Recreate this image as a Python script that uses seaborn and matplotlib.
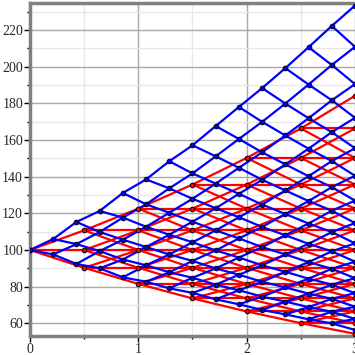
import numpy as np
import pandas as pd
import seaborn as sns
import matplotlib
matplotlib.use("Agg")
import matplotlib.pyplot as plt
from matplotlib.ticker import MultipleLocator

# binomial tree (blue): 14 steps over 3 years, top and bottom node per step
blue_times = [i * 3 / 14 for i in range(15)]
blue_top = [100, 106.0, 115.3, 121.3, 131.1, 138.5, 148.4, 157.1, 167.6,
            178.0, 188.3, 199.2, 210.6, 222.2, 233.3]
blue_bottom = [100, 97.6, 92.4, 90.0, 85.1, 82.7, 79.1, 76.6, 73.1,
               70.4, 67.3, 64.9, 62.2, 60.0, 56.4]

# trinomial tree (red): 6 steps of half a year, price levels shared by all steps
red_times = [0, 0.5, 1, 1.5, 2, 2.5, 3]
red_levels = [54.3, 60.1, 66.5, 73.6, 81.5, 90.3, 100, 110.7, 122.6,
              135.7, 150.2, 166.3, 184.1]


def blue_nodes():
    cols = []
    for k, (lo, hi) in enumerate(zip(blue_bottom, blue_top)):
        if k == 0:
            cols.append([lo])
        else:
            cols.append(list(np.geomspace(lo, hi, k + 1)))
    return cols


def blue_edges(cols):
    rows = []
    eid = 0
    for k in range(len(cols) - 1):
        for i, s in enumerate(cols[k]):
            for j in (i, i + 1):
                rows.append((eid, blue_times[k], s))
                rows.append((eid, blue_times[k + 1], cols[k + 1][j]))
                eid += 1
    return pd.DataFrame(rows, columns=["edge", "t", "S"])


def red_edges():
    mid = len(red_levels) // 2
    rows = []
    eid = 0
    for k in range(len(red_times) - 1):
        for m in range(mid - k, mid + k + 1):
            for n in (m - 1, m, m + 1):
                rows.append((eid, red_times[k], red_levels[m]))
                rows.append((eid, red_times[k + 1], red_levels[n]))
                eid += 1
    return pd.DataFrame(rows, columns=["edge", "t", "S"])


def red_nodes():
    mid = len(red_levels) // 2
    pts = []
    for k, t in enumerate(red_times):
        for m in range(mid - k, mid + k + 1):
            pts.append((t, red_levels[m]))
    return pd.DataFrame(pts, columns=["t", "S"])


sns.set_style("white")
plt.rcParams["font.family"] = ["Liberation Serif", "DejaVu Serif"]

fig = plt.figure(figsize=(3.55, 3.55), dpi=100)
ax = fig.add_axes([0.0845, 0.0535, 0.9155, 0.938])

cols = blue_nodes()
bl = blue_edges(cols)
rd = red_edges()

sns.lineplot(data=rd, x="t", y="S", units="edge", estimator=None,
             color="#ff0000", linewidth=1.6, ax=ax, zorder=3)
sns.lineplot(data=bl, x="t", y="S", units="edge", estimator=None,
             color="#0000ff", linewidth=1.6, ax=ax, zorder=4)

bn = pd.DataFrame([(blue_times[k], s) for k, c in enumerate(cols) for s in c],
                  columns=["t", "S"])
sns.scatterplot(data=red_nodes(), x="t", y="S", color="#ff0000", s=11,
                edgecolor="black", linewidth=0.7, ax=ax, zorder=5)
sns.scatterplot(data=bn, x="t", y="S", color="#0000ff", s=11,
                edgecolor="black", linewidth=0.7, ax=ax, zorder=6)

ax.set_xlim(0, 3)
ax.set_ylim(53.1, 234.7)
ax.xaxis.set_major_locator(MultipleLocator(1))
ax.xaxis.set_minor_locator(MultipleLocator(0.5))
ax.yaxis.set_major_locator(MultipleLocator(20))
ax.yaxis.set_minor_locator(MultipleLocator(10))
ax.grid(True, which="major", color="#a8a8a8", linewidth=1.0, zorder=0)
ax.grid(True, which="minor", color="#e8e8e8", linewidth=1.0, zorder=0)
ax.set_axisbelow(True)
ax.tick_params(which="major", direction="out", length=4, width=1,
               color="black", labelsize=10, pad=1)
ax.tick_params(which="minor", direction="out", length=2, width=1,
               color="black")
ax.tick_params(axis="x", bottom=True, which="both")
ax.tick_params(axis="y", left=True, which="both")
ax.set_xlabel("")
ax.set_ylabel("")

for side in ("left", "bottom", "top"):
    ax.spines[side].set_color("#808080")
    ax.spines[side].set_linewidth(2.5)
ax.spines["right"].set_visible(False)

fig.savefig("out.png", dpi=100)
